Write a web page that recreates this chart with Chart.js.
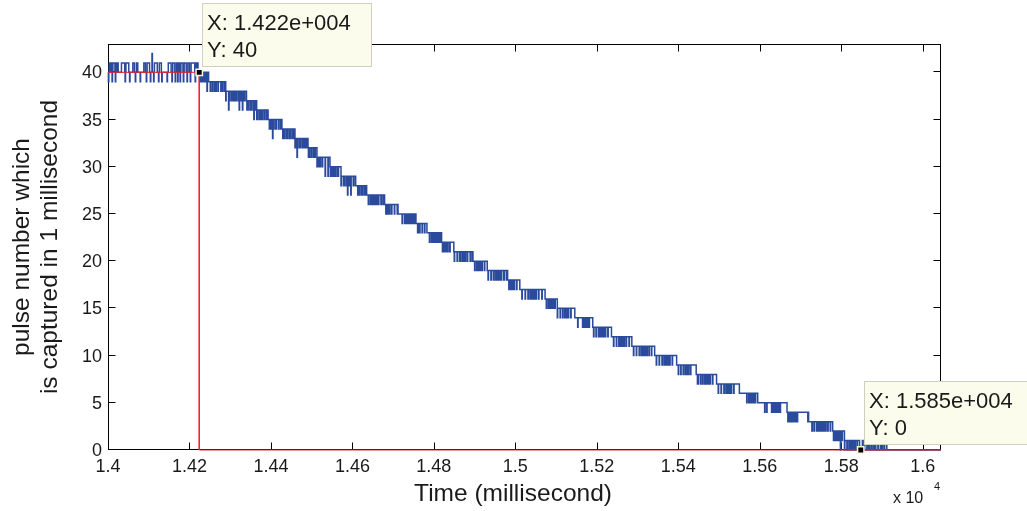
<!DOCTYPE html>
<html><head><meta charset="utf-8">
<script src="https://cdn.jsdelivr.net/npm/chart.js@4.4.0/dist/chart.umd.min.js"></script>
<style>html,body{margin:0;padding:0;background:#fff;overflow:hidden}#wrap{width:1027px;height:511px}</style>
</head><body><div id="wrap"><canvas id="c" width="1027" height="511"></canvas></div>
<script>
// ---- axis ticks ----
const xTickValues = [14000,14200,14400,14600,14800,15000,15200,15400,15600,15800,16000];
const xTickLabels = ['1.4','1.42','1.44','1.46','1.48','1.5','1.52','1.54','1.56','1.58','1.6'];
const yTickValues = [0,5,10,15,20,25,30,35,40];
const xMin = 14000, xMax = 16045, yMin = 0, yMax = 43;

// ---- series ----
const startLevel = 40;
// time (ms) around which the count drops from level n to n-1, n = 40 .. 1
const stepLevels = [40,39,38,37,36,35,34,33,32,31,30,29,28,27,26,25,24,23,22,21,20,19,18,17,16,15,14,13,12,11,10,9,8,7,6,5,4,3,2,1];
const stepTimes = [14243,14262,14310,14330,14362,14400,14431,14460,14488,14518,14553,14588,14614,14651,14687,14736,14757,14801,14829,14873,14912,14957,14992,15044,15090,15125,15171,15214,15263,15316,15371,15422,15471,15524,15582,15639,15684,15753,15795,15828];
// toggle instants (ms, relative to stepTimes) of the jitter between n and n-1
const stepFlips = [
 [-18,-17,-14,-13,-10,-8,-6,-5,-3,-1,0,2,4,7,8,12,13,17,18],
 [-26,-25,-19,-18,-12,-10,-7,-5,-2,0,3,4,8,9,15,16,24,25,27],
 [-29,-28,-21,-20,-14,-12,-8,-6,-3,-1,1,3,6,7,12,13,20,21,30],
 [-34,-33,-25,-24,-16,-15,-9,-7,-4,-2,0,2,5,6,11,12,19,20,28,29,35],
 [-28,-27,-18,-17,-11,-9,-5,-3,-1,1,3,5,9,10,16,17,26,27,31],
 [-25,-24,-17,-16,-10,-8,-4,-2,0,2,4,6,10,11,18,19,27],
 [-27,-26,-19,-18,-12,-11,-7,-5,-2,0,2,3,7,8,14,15,22,23,28],
 [-29,-28,-20,-19,-13,-11,-6,-4,-1,1,4,5,9,10,17,18,26,27,31],
 [-24,-23,-16,-15,-9,-7,-4,-2,0,2,5,6,10,11,17,18,25],
 [-26,-25,-18,-17,-11,-9,-5,-3,-1,1,3,4,8,9,15,16,22,23,27],
 [-20,-19,-13,-12,-7,-5,-2,0,2,3,6,7,12,13,19],
 [-24,-23,-16,-15,-10,-8,-4,-2,0,1,3,5,8,9,14,15,22],
 [-26,-25,-18,-17,-11,-10,-6,-4,-1,1,3,4,8,9,15,16,21],
 [-27,-26,-19,-18,-12,-10,-6,-4,-2,0,2,4,7,8,13,14,21,22,28],
 [-25,-24,-17,-16,-10,-9,-5,-3,0,2,4,5,9,10,16,17,25],
 [-26,-25,-14,-13,-8,-6,-3,-1,1,3,5,6,9,10,14,15,22],
 [-26,-25,-18,-17,-11,-9,-5,-3,-1,1,3,5,8,9,14,15,20,21,27],
 [-18,-17,-12,-11,-7,-5,-2,0,2,3,6,7,11,12,18],
 [-21,-20,-14,-13,-8,-6,-3,-1,1,2,5,6,10,11,20],
 [-23,-22,-16,-15,-10,-8,-4,-2,0,2,4,5,9,10,16,17,23],
 [-18,-17,-12,-11,-7,-5,-2,0,2,3,6,7,12,13,19],
 [-24,-23,-17,-16,-11,-9,-5,-3,-1,1,3,5,8,9,14,15,24],
 [-20,-19,-14,-13,-8,-6,-3,-1,1,2,5,6,11,12,19],
 [-28,-27,-20,-19,-13,-11,-7,-5,-2,0,2,4,7,8,13,14,21,22,29],
 [-14,-13,-9,-8,-5,-3,-1,1,3,4,7,8,13],
 [-22,-21,-15,-14,-9,-8,-4,-2,0,2,5,6,11,12,21],
 [-18,-17,-6,-5,-3,-2,0,1,3,4,6,7,10,11,19],
 [-22,-21,-16,-15,-10,-8,-5,-3,-1,1,3,4,7,8,13,14,22],
 [-22,-21,-15,-14,-9,-7,-4,-2,0,2,4,5,9,10,16,17,23],
 [-26,-25,-19,-18,-12,-10,-6,-4,-2,0,2,4,7,8,12,13,18,19,26],
 [-25,-24,-18,-17,-11,-9,-5,-3,-1,1,3,5,8,9,14,15,25],
 [-22,-21,-16,-15,-10,-9,-5,-3,-1,1,3,4,8,9,22],
 [-24,-22,-17,-16,-12,-10,-6,-4,-2,0,2,4,7,8,13,14,23],
 [-26,-25,-19,-18,-12,-10,-6,-4,-2,0,2,3,6,7,12,13,26],
 [-14,-13,-9,-8,-5,-3,-1,1,3,4,7,8,13],
 [-27,-26,-22,-21,-10,-8,-5,-3,-1,1,3,4,7,8,11,12,28],
 [-15,-14,-11,-10,-7,-5,-3,-1,1,2,4,5,8,9,34,35,36],
 [-25,-24,-20,-19,-14,-12,-9,-7,-4,-2,0,2,4,6,9,10,14,15,20,21,26],
 [-14,-13,-10,-8,-5,-3,-1,1,3,4,7,8,13],
 [-30,-29,-20,-19,-14,-12,-8,-6,-3,-1,1,3,6,7,11,12,17,24,25,29,30]
];
// single-millisecond outliers before the drop (values 41, 39, 42) and after it (value 1)
const highTimes = [14003,14004,14006,14007,14008,14012,14013,14014,14015,14016,14020,14021,14022,14024,14033,14034,14035,14036,14037,14038,14039,14040,14044,14045,14046,14047,14048,14049,14050,14061,14062,14063,14064,14070,14071,14072,14088,14089,14090,14091,14096,14097,14098,14099,14100,14101,14114,14115,14116,14117,14118,14119,14120,14126,14127,14128,14129,14130,14148,14149,14150,14151,14152,14153,14154,14159,14160,14161,14162,14163,14168,14169,14173,14174,14175,14179,14180,14181,14182,14183,14187,14188,14189,14190,14191,14196,14197,14198,14199,14204,14205,14206,14207,14208,14209,14210,14211,14212,14216,14217,14218,14220];
const highValue = 41;
const lowTimes = [14001,14010,14018,14042,14053,14067,14079,14094,14104,14112,14124,14132,14145,14157,14165,14171,14177,14185,14194,14202,14214];
const lowValue = 39;
const peakTimes = [14108];
const peakValue = 42;
const tailTimes = [15863,15866,15870,15875,15880,15884,15890,15896,15900,15905,15911];
const tailValue = 1;

// ---- data tips ----
const tipX = [14224, 15848];
const tipY = [40, 0];
const tipLines = [['X: 1.422e+004','Y: 40'],['X: 1.585e+004','Y: 0']];
const guideX = [14000, 14224, 14224, 16045];
const guideY = [40, 40, 0, 0];

// ---- expand the read data into change points ----
const spikeMap = new Map();
highTimes.forEach(t => spikeMap.set(t, highValue));
lowTimes.forEach(t => spikeMap.set(t, lowValue));
peakTimes.forEach(t => spikeMap.set(t, peakValue));
tailTimes.forEach(t => spikeMap.set(t, tailValue));
const series = [];
let prev = null;
for (let t = xMin; t <= xMax; t++) {
  let v = startLevel;
  for (let k = 0; k < stepTimes.length; k++) {
    const offs = stepFlips[k]; let c = 0;
    for (let j = 0; j < offs.length; j++) { if (stepTimes[k] + offs[j] <= t) c++; else break; }
    v -= c % 2;
  }
  if (spikeMap.has(t)) v = spikeMap.get(t);
  if (v !== prev) { series.push({x: t, y: v}); prev = v; }
}
series.push({x: xMax, y: prev});

const FONT = 'Liberation Sans, Arial, sans-serif';
const TXT = '#1a1a1a';

const framePlugin = {
  id: 'frame',
  beforeDatasetsDraw(chart) {
    const {ctx, chartArea: a} = chart;
    const L = Math.round(a.left) + 0.5, R = Math.round(a.right) - 0.5, T = Math.round(a.top) + 0.5, B = Math.round(a.bottom) - 0.5;
    ctx.save();
    ctx.strokeStyle = '#000'; ctx.lineWidth = 1;
    ctx.strokeRect(L, T, R - L, B - T);
    const xs = chart.scales.x, ys = chart.scales.y, TL = 7;
    ctx.beginPath();
    xTickValues.forEach(v => {
      const p = Math.round(xs.getPixelForValue(v)) + 0.5;
      ctx.moveTo(p, B); ctx.lineTo(p, B - TL);
      ctx.moveTo(p, T); ctx.lineTo(p, T + TL);
    });
    yTickValues.forEach(v => {
      const p = Math.round(ys.getPixelForValue(v)) - 0.5;
      ctx.moveTo(L, p); ctx.lineTo(L + TL, p);
      ctx.moveTo(R, p); ctx.lineTo(R - TL, p);
    });
    ctx.stroke();
    ctx.restore();
  },
  afterDraw(chart) {
    const {ctx, chartArea: a} = chart;
    const xs = chart.scales.x, ys = chart.scales.y;
    ctx.save();
    ctx.fillStyle = TXT;
    ctx.textBaseline = 'alphabetic';
    ctx.textAlign = 'center';
    ctx.font = '24.5px ' + FONT;
    ctx.fillText('Time (millisecond)', a.left + 405, 501);
    ctx.textAlign = 'left';
    ctx.font = '16px ' + FONT;
    ctx.fillText('x 10', 893, 503);
    ctx.font = '11px ' + FONT;
    ctx.fillText('4', 934, 490);
    for (let i = 0; i < tipX.length; i++) {
      const mx = Math.round(xs.getPixelForValue(tipX[i]));
      const my = Math.round(ys.getPixelForValue(tipY[i]));
      const left = mx + 3, bottom = my - 5, w = 170, h = 64;
      ctx.fillStyle = 'rgb(252,252,236)';
      ctx.fillRect(left, bottom - h, w, h);
      ctx.strokeStyle = 'rgb(208,208,192)'; ctx.lineWidth = 1;
      ctx.strokeRect(left + 0.5, bottom - h + 0.5, w - 1, h - 1);
      ctx.fillStyle = TXT;
      ctx.font = '22px ' + FONT;
      ctx.fillText(tipLines[i][0], left + 5, bottom - 37);
      ctx.fillText(tipLines[i][1], left + 5, bottom - 10);
    }
    ctx.restore();
  }
};

new Chart(document.getElementById('c'), {
  type: 'line',
  data: {
    datasets: [
      { label: 'tips', data: tipX.map((x, i) => ({x, y: tipY[i]})), showLine: false,
        pointStyle: 'rect', pointRadius: 4.5, pointBackgroundColor: '#000', pointBorderColor: '#f6f6de',
        pointBorderWidth: 1.5, order: 0, clip: false },
      { label: 'guide', data: guideX.map((x, i) => ({x, y: guideY[i]})), borderColor: '#e8262d',
        borderWidth: 1, pointRadius: 0, order: 1, clip: 2 },
      { label: 'pulses', data: series, borderColor: '#2a4a9c', borderWidth: 1.5, pointRadius: 0,
        stepped: true, order: 2, clip: 2 }
    ]
  },
  options: {
    responsive: false, animation: false, devicePixelRatio: 1,
    layout: { padding: { left: 0, right: 86, top: 44, bottom: 0 } },
    plugins: { legend: { display: false }, tooltip: { enabled: false } },
    scales: {
      x: {
        type: 'linear', min: xMin, max: xMax,
        grid: { display: false, drawTicks: false }, border: { display: false },
        afterBuildTicks: s => { s.ticks = xTickValues.map(v => ({value: v})); },
        afterFit: s => { s.height = 61; },
        ticks: { padding: 6, autoSkip: false, maxRotation: 0, color: TXT, font: { family: FONT, size: 18 },
          callback: v => { const i = xTickValues.indexOf(v); return i >= 0 ? xTickLabels[i] : ''; } }
      },
      y: {
        type: 'linear', min: yMin, max: yMax,
        grid: { display: false, drawTicks: false }, border: { display: false },
        afterBuildTicks: s => { s.ticks = yTickValues.map(v => ({value: v})); },
        afterFit: s => { s.width = 108; },
        ticks: { padding: 6, labelOffset: 1, color: TXT, font: { family: FONT, size: 18 },
          callback: v => String(v) },
        title: { display: true, text: ['pulse number which', 'is captured in 1 millisecond'], color: TXT,
          font: { family: FONT, size: 24.5, lineHeight: 28 / 24.5 }, padding: { top: 8, bottom: 0 } }
      }
    }
  },
  plugins: [framePlugin]
});
</script>
</body></html>
